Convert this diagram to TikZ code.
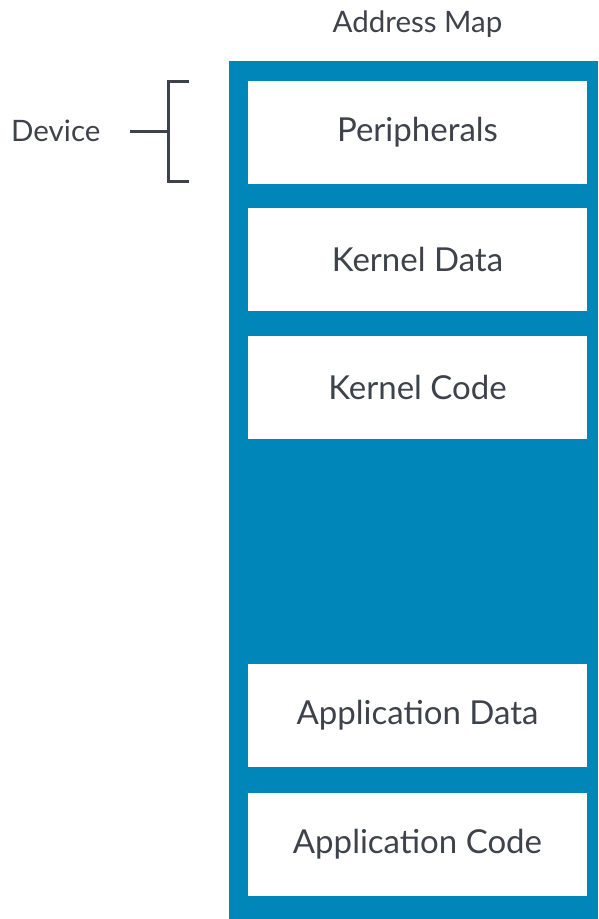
\documentclass[tikz,border=0pt]{standalone}
\usepackage{fontspec}
\setmainfont{Lato}
\definecolor{mapblue}{RGB}{0,134,184}
\definecolor{txtgray}{RGB}{62,67,75}
\begin{document}
\begin{tikzpicture}[x=1pt,y=-1pt,
  region/.style={fill=white,draw=none,minimum width=339pt,minimum height=103pt,inner sep=0pt,font=\fontsize{33}{38}\selectfont,text=txtgray},
  lbl/.style={font=\fontsize{29.5}{34}\selectfont,text=txtgray,inner sep=0pt},
  brk/.style={draw=txtgray,line width=3pt}]
\useasboundingbox (0,0) rectangle (598,919);
\fill[mapblue] (229,60.5) rectangle (598,919);
\node[region] (per) at (417.5,132) {Peripherals};
\node[region] (kd) at (417.5,259.5) {Kernel Data};
\node[region] (kc) at (417.5,387) {Kernel Code};
\node[region] (ad) at (417.5,715.5) {Application Data};
\node[region] (ac) at (417.5,844) {Application Code};
\node[lbl] (title) at (417.5,24) {Address Map};
\node[lbl,anchor=west] (dev) at (11,131) {Device};
\coordinate (bt) at (189,81);
\coordinate (bb) at (189,181);
\coordinate (bm) at (168,131);
\coordinate (hs) at (130,131);
\draw[brk] (bt) -- (168,81) -- (168,181) -- (bb);
\draw[brk] (hs) -- (bm);
\end{tikzpicture}
\end{document}
